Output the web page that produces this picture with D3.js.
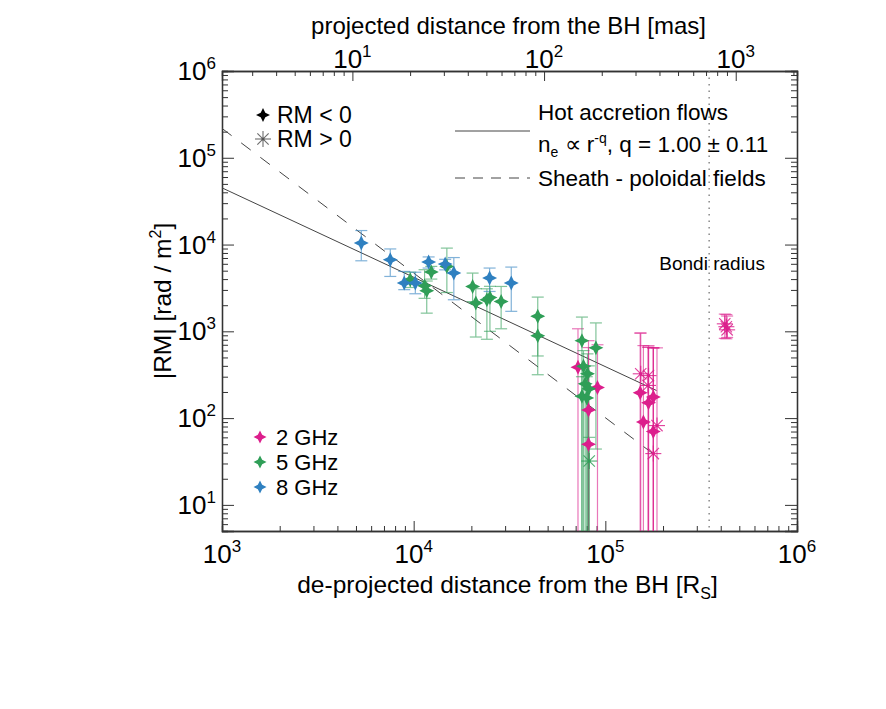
<!DOCTYPE html>
<html>
<head>
<meta charset="utf-8">
<script src="https://cdn.jsdelivr.net/npm/d3@7"></script>
<style>
body { margin: 0; background: #fff; }
text { font-family: "Liberation Sans", Arial, Helvetica, sans-serif; fill: #000; }
</style>
</head>
<body>
<div id="chart"></div>
<script>
// ---- data ----
const freqLabels = ["2 GHz", "5 GHz", "8 GHz"];
const freqColors = ["#dc1e8c", "#2f9e57", "#2f80c0"];

// 2 GHz
const dist2 = [72000, 81700, 81700, 91000, 152000, 158000, 168000, 178000, 178000, 153000, 168000, 167000, 186000, 178000, 420000, 432000, 428000];
const rm2 = [385, 124, 50, 225, 196, 90, 150, 175, 70, 324, 309, 238, 82, 39, 1220, 1040, 1130];
const lo2 = [1, 1, 1, 1, 1, 1, 1, 1, 1, 1, 1, 1, 1, 1, 830, 850, 820];
const hi2 = [1070, 780, 650, 700, 955, 685, 655, 645, 645, 955, 685, 655, 645, 645, 1580, 1500, 1560];
const sign2 = ["-", "-", "-", "-", "-", "-", "-", "-", "-", "+", "+", "+", "+", "+", "+", "+", "+"];

// 5 GHz
const dist5 = [9600, 11400, 11700, 12360, 14900, 20300, 21100, 24100, 25000, 28600, 44400, 44400, 75500, 76900, 80700, 78500, 82000, 75500, 80000, 89300, 82400];
const rm5 = [3930, 3350, 2940, 4820, 5580, 3290, 2120, 2310, 2450, 2210, 1490, 890, 781, 396, 324, 248, 218, 179, 171, 645, 32];
const lo5 = [3200, 2400, 1620, 4000, 2800, 2200, 860, 810, 1000, 1070, 520, 316, 3, 1, 1, 1, 1, 1, 1, 44, 1];
const hi5 = [4800, 5130, 3800, 5600, 9100, 4690, 3100, 3090, 3300, 3290, 2480, 1500, 1460, 600, 550, 400, 400, 300, 300, 1250, 60];
const sign5 = ["-", "-", "-", "-", "-", "-", "-", "-", "-", "-", "-", "-", "-", "-", "-", "-", "-", "-", "-", "-", "+"];

// 8 GHz
const dist8 = [5330, 7550, 8930, 10200, 11970, 14600, 16200, 24900, 32300];
const rm8 = [10400, 6670, 3600, 3600, 6300, 5950, 4690, 4110, 3600];
const lo8 = [6500, 4290, 3020, 2710, 5360, 5110, 2310, 2880, 1700];
const hi8 = [14500, 8900, 4900, 4800, 7200, 6760, 7080, 5360, 5500];
const sign8 = ["-", "-", "-", "-", "-", "-", "-", "-", "-"];

// model lines: [start, end] in R_S, |RM| = norm * (r / 1e3)^slope
const hotRange = [1e3, 1.85e5], hotNorm = 4.5e4, hotSlope = -1.03;
const sheathRange = [1e3, 1.85e5], sheathNorm = 2.18e5, sheathSlope = -1.667;
const bondiRadius = 3.48e5;
const masToRs = 479;

const xTicks = [1e3, 1e4, 1e5, 1e6];
const yTicks = [1e1, 1e2, 1e3, 1e4, 1e5, 1e6];
const masTicks = [10, 100, 1000];

// ---- layout ----
const W = 886, H = 709;
const plot = { left: 222, right: 797, top: 71, bottom: 531 };

const svg = d3.select("#chart").append("svg")
    .attr("width", W).attr("height", H);

const x = d3.scaleLog().domain([1e3, 1e6]).range([plot.left, plot.right]);
const y = d3.scaleLog().domain([5, 1e6]).range([plot.bottom, plot.top]);
const xMas = d3.scaleLog().domain([1e3 / masToRs, 1e6 / masToRs]).range([plot.left, plot.right]);

svg.append("clipPath").attr("id", "clip")
    .append("rect")
    .attr("x", plot.left).attr("y", plot.top)
    .attr("width", plot.right - plot.left).attr("height", plot.bottom - plot.top);

// minor tick values for a log scale
function minorTicks(scale) {
    const [a, b] = scale.domain();
    const out = [];
    for (let e = Math.floor(Math.log10(a)); e <= Math.ceil(Math.log10(b)); e++) {
        for (let m = 2; m <= 9; m++) {
            const v = m * Math.pow(10, e);
            if (v >= a && v <= b) out.push(v);
        }
    }
    return out;
}

const axisCol = "#333";
function drawAxis(axisFn, scale, transform, major, major_len, minor_len) {
    const gMaj = svg.append("g").attr("transform", transform)
        .call(axisFn(scale).tickValues(major).tickSize(-major_len).tickFormat(""));
    const gMin = svg.append("g").attr("transform", transform)
        .call(axisFn(scale).tickValues(minorTicks(scale)).tickSize(-minor_len).tickFormat(""));
    [gMaj, gMin].forEach(g => {
        g.selectAll("line").attr("stroke", axisCol).attr("stroke-width", 1);
        g.select(".domain").attr("stroke", axisCol).attr("stroke-width", 1.3);
    });
}

drawAxis(d3.axisBottom, x, `translate(0,${plot.bottom})`, xTicks, 10, 5);
drawAxis(d3.axisLeft, y, `translate(${plot.left},0)`, yTicks, 12, 6);
drawAxis(d3.axisRight, y, `translate(${plot.right},0)`, yTicks, 12, 6);
drawAxis(d3.axisTop, xMas, `translate(0,${plot.top})`, masTicks, 10, 5);

// power-of-ten labels
function powLabel(xp, yp, exp, anchor) {
    const t = svg.append("text")
        .attr("x", xp).attr("y", yp)
        .attr("text-anchor", anchor)
        .style("font-size", "26px");
    t.append("tspan").text("10");
    t.append("tspan").attr("dy", -11).style("font-size", "17px").text(exp);
}

xTicks.forEach(v => powLabel(x(v), 563, Math.round(Math.log10(v)), "middle"));
yTicks.forEach(v => powLabel(216, y(v) + 9, Math.round(Math.log10(v)), "end"));
masTicks.forEach(v => powLabel(xMas(v), 68, Math.round(Math.log10(v)), "middle"));

// axis titles
const bt = svg.append("text")
    .attr("x", (plot.left + plot.right) / 2 - 2).attr("y", 593)
    .attr("text-anchor", "middle").style("font-size", "24.5px");
bt.append("tspan").text("de-projected distance from the BH [R");
bt.append("tspan").attr("dy", 6).style("font-size", "16px").text("S");
bt.append("tspan").attr("dy", -6).text("]");

svg.append("text")
    .attr("x", (plot.left + plot.right) / 2 - 1).attr("y", 34)
    .attr("text-anchor", "middle").style("font-size", "24px")
    .text("projected distance from the BH [mas]");

const lt = svg.append("text")
    .attr("transform", `translate(171,${(plot.top + plot.bottom) / 2}) rotate(-90)`)
    .attr("text-anchor", "middle").style("font-size", "24.5px");
lt.append("tspan").text("|RM| [rad / m");
lt.append("tspan").attr("dy", -10).style("font-size", "16px").text("2");
lt.append("tspan").attr("dy", 10).text("]");

// ---- plot content ----
const content = svg.append("g").attr("clip-path", "url(#clip)");

// Bondi radius
content.append("line")
    .attr("x1", x(bondiRadius)).attr("x2", x(bondiRadius))
    .attr("y1", plot.top).attr("y2", plot.bottom)
    .attr("stroke", "#777").attr("stroke-width", 1.3)
    .attr("stroke-dasharray", "1.5,5");
svg.append("text")
    .attr("x", x(bondiRadius) + 3).attr("y", 270)
    .attr("text-anchor", "middle").style("font-size", "19px")
    .text("Bondi radius");

// model lines
function modelLine(range, norm, slope) {
    return range.map(r => [x(r), y(norm * Math.pow(r / 1e3, slope))]);
}
content.append("path")
    .attr("d", d3.line()(modelLine(hotRange, hotNorm, hotSlope)))
    .attr("fill", "none").attr("stroke", "#444").attr("stroke-width", 1);
content.append("path")
    .attr("d", d3.line()(modelLine(sheathRange, sheathNorm, sheathSlope)))
    .attr("fill", "none").attr("stroke", "#444").attr("stroke-width", 1)
    .attr("stroke-dasharray", "12,12");

// markers
function starPath(r, w) {
    return `M0,${-r}L${w},${-w}L${r},0L${w},${w}L0,${r}L${-w},${w}L${-r},0L${-w},${-w}Z`;
}
function drawStar(g, cx, cy, color, r) {
    g.append("path")
        .attr("d", starPath(r, r * 0.33))
        .attr("transform", `translate(${cx},${cy})`)
        .attr("fill", color);
}
function drawAsterisk(g, cx, cy, color, r) {
    const a = g.append("g").attr("transform", `translate(${cx},${cy})`)
        .attr("stroke", color).attr("stroke-width", 1.1).attr("opacity", 0.85);
    const d = r * Math.SQRT1_2;
    a.append("line").attr("x1", -r).attr("x2", r).attr("y1", 0).attr("y2", 0);
    a.append("line").attr("x1", 0).attr("x2", 0).attr("y1", -r).attr("y2", r);
    a.append("line").attr("x1", -d).attr("x2", d).attr("y1", -d).attr("y2", d);
    a.append("line").attr("x1", -d).attr("x2", d).attr("y1", d).attr("y2", -d);
    g.append("circle").attr("cx", cx).attr("cy", cy).attr("r", 1.6).attr("fill", color);
}

const series = [
    { dist: dist2, rm: rm2, lo: lo2, hi: hi2, sign: sign2, color: freqColors[0] },
    { dist: dist5, rm: rm5, lo: lo5, hi: hi5, sign: sign5, color: freqColors[1] },
    { dist: dist8, rm: rm8, lo: lo8, hi: hi8, sign: sign8, color: freqColors[2] }
];

const errG = content.append("g");
const markG = content.append("g");
series.forEach(s => {
    s.dist.forEach((d, i) => {
        const cx = x(d);
        const yLo = Math.min(y(Math.max(s.lo[i], 1)), plot.bottom + 5);
        const yHi = y(s.hi[i]);
        const cap = 6;
        const eb = errG.append("g").attr("stroke", s.color)
            .attr("stroke-width", 1.2).attr("opacity", 0.6);
        eb.append("line").attr("x1", cx).attr("x2", cx).attr("y1", yLo).attr("y2", yHi);
        eb.append("line").attr("x1", cx - cap).attr("x2", cx + cap).attr("y1", yHi).attr("y2", yHi);
        eb.append("line").attr("x1", cx - cap).attr("x2", cx + cap).attr("y1", yLo).attr("y2", yLo);
        if (s.sign[i] === "-") drawStar(markG, cx, y(s.rm[i]), s.color, 7.5);
        else drawAsterisk(markG, cx, y(s.rm[i]), s.color, 8);
    });
});

// ---- legends ----
// sign legend
drawStar(svg, 263, 115, "#000", 7);
drawAsterisk(svg, 263, 139, "#555", 8);
svg.append("text").attr("x", 277).attr("y", 123).style("font-size", "23px").text("RM < 0");
svg.append("text").attr("x", 277).attr("y", 147).style("font-size", "23px").text("RM > 0");

// frequency legend
freqLabels.forEach((lab, i) => {
    const yy = 437 + i * 25;
    drawStar(svg, 260, yy, freqColors[i], 6.5);
    svg.append("text").attr("x", 276).attr("y", yy + 8).style("font-size", "22px").text(lab);
});

// model legend
svg.append("line").attr("x1", 455).attr("x2", 530).attr("y1", 131).attr("y2", 131)
    .attr("stroke", "#444").attr("stroke-width", 1);
svg.append("line").attr("x1", 455).attr("x2", 530).attr("y1", 178).attr("y2", 178)
    .attr("stroke", "#444").attr("stroke-width", 1).attr("stroke-dasharray", "10,8");
svg.append("text").attr("x", 538).attr("y", 120).style("font-size", "22.5px").text("Hot accretion flows");
const nt = svg.append("text").attr("x", 538).attr("y", 152).style("font-size", "22.5px");
nt.append("tspan").text("n");
nt.append("tspan").attr("dy", 5).style("font-size", "14px").text("e");
nt.append("tspan").attr("dy", -5).text(" \u221D r");
nt.append("tspan").attr("dy", -9).style("font-size", "14px").text("-q");
nt.append("tspan").attr("dy", 9).text(", q =  1.00 \u00B1 0.11");
svg.append("text").attr("x", 538).attr("y", 186).style("font-size", "22.5px").text("Sheath - poloidal fields");
</script>
</body>
</html>
